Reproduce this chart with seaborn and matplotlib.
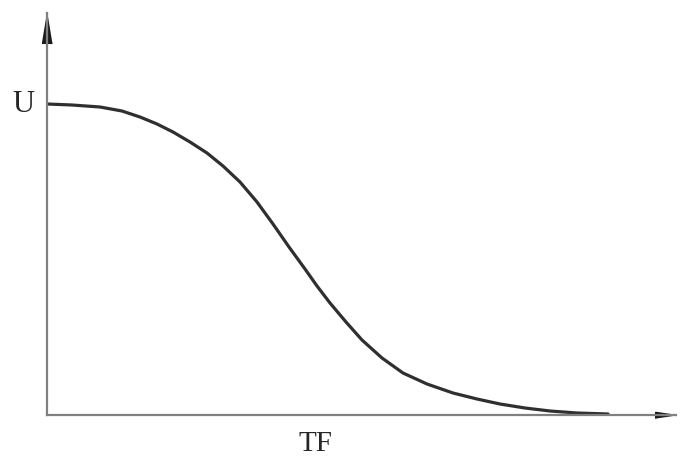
import matplotlib
matplotlib.use("Agg")
import matplotlib.pyplot as plt
import seaborn as sns
import pandas as pd

# =========================
# DATA
# =========================

tf = [0, 25, 53, 75, 93, 110, 126, 143, 160, 176, 193, 210, 226, 242,
      258, 270, 283, 299, 315, 335, 356, 380, 406, 430, 453, 478, 503,
      530, 561]
u = [311, 310, 308, 304, 298, 291, 283, 273, 262, 249, 233, 213, 191,
     168, 146, 129, 112, 93, 75, 57, 42, 31, 22, 16, 11, 7, 4, 2, 1]

df = pd.DataFrame({"TF": tf, "U": u})

# =========================
# PLOT
# =========================

sns.set_style("white")
plt.rcParams["font.family"] = ["Liberation Serif", "DejaVu Serif"]

fig = plt.figure(figsize=(6.8, 4.59), dpi=100)
W, H = 680, 459
left, right, top, bottom = 47, 676, 13, 415
ax = fig.add_axes([left / W, 1 - bottom / H, (right - left) / W, (bottom - top) / H])

sns.lineplot(data=df, x="TF", y="U", ax=ax, color="#2f2f2f", linewidth=2.3)

ax.set_xlim(0, right - left)
ax.set_ylim(0, bottom - top)

# axes look like plain arrows
for side in ["top", "right"]:
    ax.spines[side].set_visible(False)
for side in ["left", "bottom"]:
    ax.spines[side].set_color("#808080")
    ax.spines[side].set_linewidth(1.6)
ax.set_xticks([])
ax.set_yticks([])
ax.set_xlabel("")
ax.set_ylabel("")

up = [(0, 0), (-0.33, -2), (0.33, -2)]
rt = [(0, 0), (-2, 0.3), (-2, -0.3)]
ax.plot(0, 1, marker=up, markersize=43, color="#1a1a1a",
        transform=ax.transAxes, clip_on=False)
ax.plot(1, 0, marker=rt, markersize=30, color="#1a1a1a",
        transform=ax.transAxes, clip_on=False)

ax.text(-24, 311, "U", fontsize=22, ha="center", va="center")
ax.text(268, -29, "TF", fontsize=21, ha="center", va="center")

fig.savefig("out.png", dpi=100)
